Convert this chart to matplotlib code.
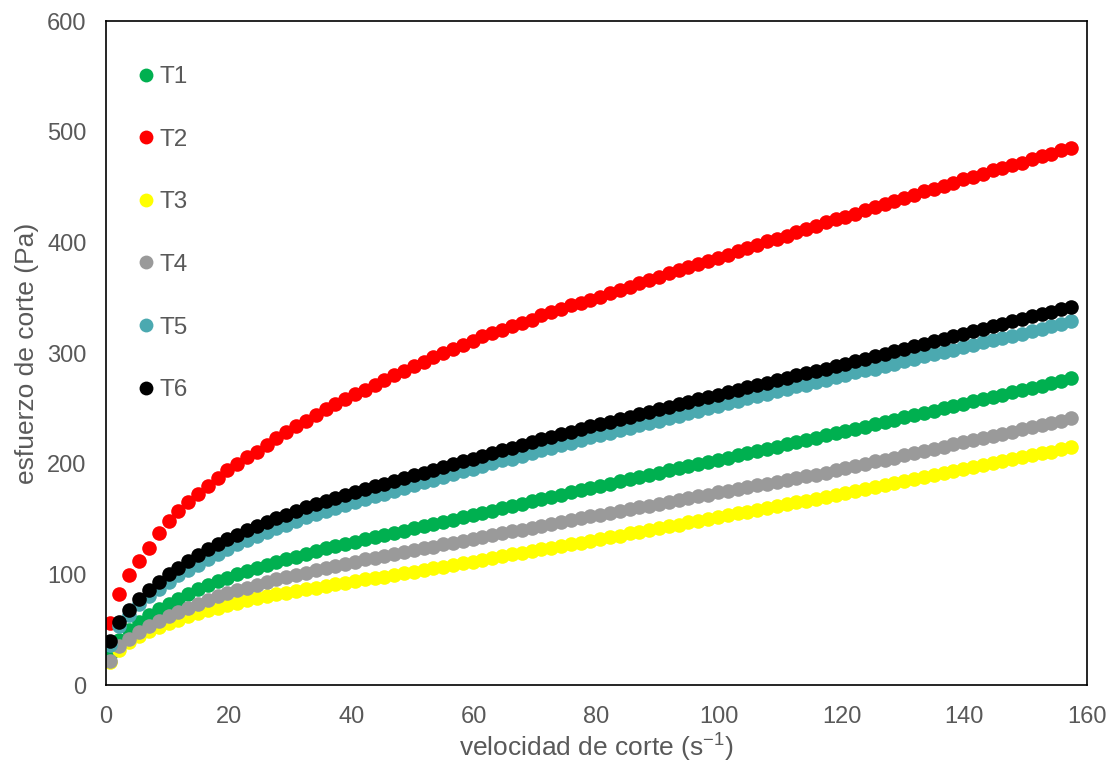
import matplotlib
matplotlib.use("Agg")
import matplotlib.pyplot as plt

plt.rcParams['font.family'] = ['Liberation Sans', 'DejaVu Sans']
plt.rcParams['mathtext.fontset'] = 'custom'
plt.rcParams['mathtext.rm'] = 'Liberation Sans'
plt.rcParams['mathtext.default'] = 'regular'

# shear rate (s-1)
shear_rate = [0.6, 2.2, 3.8, 5.4, 7.0, 8.6, 10.2, 11.8, 13.4, 15.0,
              16.6, 18.2, 19.8, 21.4, 23.0, 24.6, 26.2, 27.8, 29.4, 31.0,
              32.6, 34.2, 35.8, 37.4, 39.0, 40.6, 42.2, 43.8, 45.4, 47.0,
              48.6, 50.2, 51.8, 53.4, 55.0, 56.6, 58.2, 59.8, 61.4, 63.0,
              64.6, 66.2, 67.8, 69.4, 71.0, 72.6, 74.2, 75.8, 77.4, 79.0,
              80.6, 82.2, 83.8, 85.4, 87.0, 88.6, 90.2, 91.8, 93.4, 95.0,
              96.6, 98.2, 99.8, 101.4, 103.0, 104.6, 106.2, 107.8, 109.4, 111.0,
              112.6, 114.2, 115.8, 117.4, 119.0, 120.6, 122.2, 123.8, 125.4, 127.0,
              128.6, 130.2, 131.8, 133.4, 135.0, 136.6, 138.2, 139.8, 141.4, 143.0,
              144.6, 146.2, 147.8, 149.4, 151.0, 152.6, 154.2, 155.8, 157.4]

# shear stress (Pa) per treatment
t1 = [27, 41, 50, 57, 63, 68.5, 73.5, 78, 82, 87,
      90.5, 94, 97, 100, 103, 106, 108.5, 111, 113.5, 116,
      118.5, 121, 123.5, 125.5, 127.5, 129.5, 131.5, 133.5, 135.5, 137.5,
      139.5, 141.5, 143.5, 145.5, 147.5, 149.5, 151.5, 153.5, 155.5, 157.5,
      159.5, 162, 164, 166, 168, 170, 172, 174, 176, 178,
      180, 182, 184, 186, 188, 190, 192, 194, 196, 198,
      199.5, 201.5, 203.5, 205.5, 207.5, 209.5, 211.5, 213.5, 215.5, 217.5,
      219.5, 221.5, 223.5, 225.5, 227.5, 229.5, 231.5, 233.5, 235.5, 237.5,
      239.5, 242, 244, 246, 248, 250, 252, 254, 256.5, 258.5,
      260.5, 262.5, 264.5, 266.5, 268.5, 270.5, 272.5, 275, 277]

t2 = [56, 82, 99, 112, 124, 137, 148, 157, 165, 173,
      180, 187, 194, 200, 206, 211, 217, 223, 229, 234,
      239, 244, 249, 254, 258, 263, 267, 271, 276, 280,
      284, 288, 292, 296, 300, 304, 307, 311, 315, 318,
      321, 324, 327, 330, 334, 337, 340, 343, 345, 348,
      351, 354, 357, 360, 363, 366, 369, 372, 375, 378,
      380, 383, 386, 389, 392, 395, 398, 401, 403, 406,
      409, 412, 415, 418, 421, 423, 426, 429, 432, 435,
      437, 440, 443, 446, 448, 451, 454, 457, 459, 462,
      465, 467, 470, 472, 475, 478, 480, 483, 485]

t3 = [21, 32, 39, 44, 48.5, 52.5, 56, 59, 62, 65,
      67.5, 70, 72.5, 74.5, 76.5, 78.5, 80.5, 82, 83.5, 85,
      86.5, 88, 89.5, 91, 92.5, 94, 95.5, 96.5, 98, 99.5,
      101, 102.5, 104, 105.5, 107, 108.5, 110, 111.5, 113, 115,
      116.5, 118, 119.5, 121, 122.5, 124, 125.5, 127, 128.5, 130,
      132, 133.5, 135, 137, 138.5, 140, 142, 143.5, 145, 147,
      148.5, 150, 152, 153.5, 155, 156.5, 158.5, 160, 161.5, 163.5,
      165, 166.5, 168, 170, 171.5, 173.5, 175, 177, 179, 180.5,
      182.5, 184, 186, 188, 189.5, 191.5, 193, 195, 197, 198.5,
      200.5, 202, 204, 206, 207.5, 209.5, 211, 213, 215]

t4 = [22, 35, 42, 48, 53, 58, 62, 66, 70, 73.5,
      77, 80, 83, 85.5, 88, 90.5, 93, 95.5, 97.5, 99.5,
      101.5, 103.5, 105.5, 107.5, 109.5, 111.5, 113.5, 115, 117, 118.5,
      120, 122, 123.5, 125, 127, 128.5, 130.5, 132, 134, 135.5,
      137, 139, 140.5, 142, 144, 145.5, 147.5, 149, 150.5, 152.5,
      154, 155.5, 157, 159, 160.5, 162, 164, 165.5, 167, 169,
      170.5, 172, 174, 175.5, 177, 178.5, 180.5, 182, 183.5, 185,
      187, 188.5, 190, 192, 194, 196, 198, 200, 202, 203.5,
      205.5, 207.5, 209.5, 211.5, 213.5, 215.5, 217.5, 219.5, 221, 223,
      225, 227, 229, 231, 233, 235, 237, 239, 241]

t5 = [36, 53, 63, 73, 80, 87, 93, 99, 104, 108.5,
      114, 118.5, 123, 127, 131, 135, 138.5, 142, 145, 148.5,
      151.5, 154.5, 157.5, 160, 163, 165.5, 168, 170.5, 173, 175.5,
      178, 180.5, 183, 185.5, 188, 190.5, 193, 195.5, 198, 200.5,
      203, 204.5, 207, 209.5, 212, 214.5, 217, 219, 221.5, 224,
      226, 228, 230.5, 232.5, 234.5, 237, 239, 241, 243.5, 245.5,
      248, 250, 252, 254.5, 256.5, 259, 261, 263, 265.5, 267.5,
      270, 271.5, 273.5, 275.5, 278, 280, 282.5, 284.5, 285.5, 288,
      290, 292.5, 294.5, 297, 299, 301, 303, 305, 307.5, 309.5,
      312, 314, 315.5, 317.5, 320, 322, 324, 326.5, 329]

t6 = [40, 57, 68, 78, 86, 93, 100, 106, 112, 117.5,
      123, 127.5, 132, 136, 140, 144, 147.5, 151, 154, 157.5,
      160.5, 163.5, 166.5, 169, 172, 174.5, 177, 179.5, 182, 184.5,
      187, 189.5, 192, 194.5, 197, 199.5, 202, 204.5, 207, 209.5,
      212, 214.5, 217, 219.5, 222, 224.5, 227, 229, 231.5, 234,
      236, 238, 240.5, 242.5, 244.5, 247, 249, 251, 253.5, 255.5,
      258, 260, 262, 264.5, 266.5, 269, 271, 273, 275.5, 277.5,
      280, 282, 284, 286, 288.5, 290.5, 293, 295, 297, 299.5,
      301.5, 304, 306, 308.5, 310.5, 313, 315, 317, 319.5, 321.5,
      324, 326, 328.5, 330.5, 333, 335, 337, 339.5, 342]

labels = ['T1', 'T2', 'T3', 'T4', 'T5', 'T6']
colors = ['#00B050', '#FF0000', '#FFFF00', '#9A9A9A', '#4BA9B0', '#000000']
series = [t1, t2, t3, t4, t5, t6]

text_color = '#595959'

fig = plt.figure(figsize=(11.1, 7.67), dpi=100)
ax = fig.add_axes([0.0955, 0.1069, 0.8838, 0.8657])

for y, c, lab in zip(series, colors, labels):
    ax.plot(shear_rate, y, 'o', color=c, markersize=10.5, markeredgewidth=0, label=lab)

ax.set_xlim(0, 160)
ax.set_ylim(0, 600)
ax.set_xticks(range(0, 161, 20))
ax.set_yticks(range(0, 601, 100))
ax.tick_params(length=0, labelsize=17, colors=text_color)
ax.tick_params(axis='x', pad=15)
ax.tick_params(axis='y', pad=14)
for sp in ax.spines.values():
    sp.set_color('black')
    sp.set_linewidth(1.2)

ax.set_xlabel('velocidad de corte (s$^{-1}$)', fontsize=19, color=text_color, labelpad=3)
ax.set_ylabel('esfuerzo de corte (Pa)', fontsize=19, color=text_color, labelpad=6)

leg = ax.legend(loc='upper left', bbox_to_anchor=(0.012, 0.965), frameon=False,
                fontsize=17.5, labelspacing=1.67, handlelength=0.55, handletextpad=0.25,
                markerscale=0.95)
for t in leg.get_texts():
    t.set_color(text_color)

fig.savefig('out.png', dpi=100)
